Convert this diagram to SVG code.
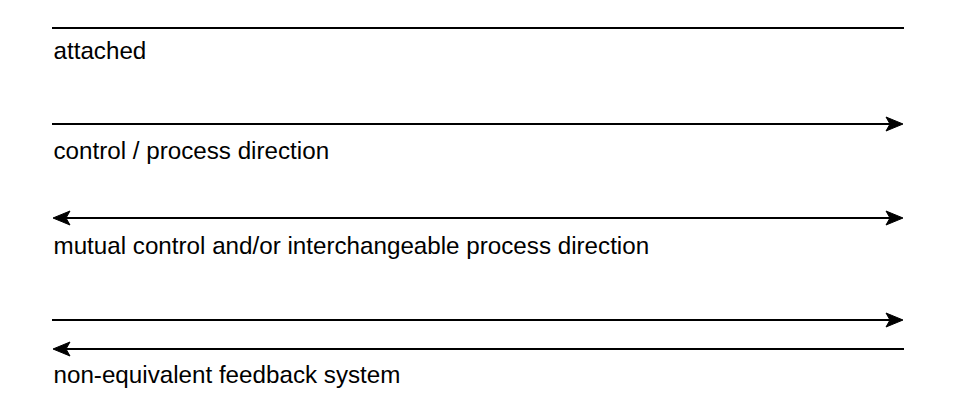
<svg xmlns="http://www.w3.org/2000/svg" width="956" height="416" viewBox="0 0 956 416">
<style>
.ln{stroke:#000;stroke-width:2;fill:none}
.ah{fill:#000;stroke:#000;stroke-width:1}
.lb{font-family:"Liberation Sans",Arial,sans-serif;font-size:24.2px;fill:#000}
</style>
<defs>
<path id="headR" d="M0,0 L-17,-7 L-13,0 L-17,7 Z"/>
</defs>
<rect width="956" height="416" fill="#fff"/>
<g id="connectors">
<line class="ln" x1="52" y1="28" x2="904" y2="28"/>
<line class="ln" x1="52" y1="124" x2="892" y2="124"/>
<use href="#headR" class="ah" transform="translate(903,124)"/>
<line class="ln" x1="64" y1="218" x2="892" y2="218"/>
<use href="#headR" class="ah" transform="translate(903,218)"/>
<use href="#headR" class="ah" transform="translate(53,218) rotate(180)"/>
<line class="ln" x1="52" y1="320" x2="892" y2="320"/>
<use href="#headR" class="ah" transform="translate(903,320)"/>
<line class="ln" x1="64" y1="349" x2="904" y2="349"/>
<use href="#headR" class="ah" transform="translate(53,349) rotate(180)"/>
</g>
<g id="label-attached"><text class="lb" x="53.5" y="58.5">attached</text></g>
<g id="label-control"><text class="lb" x="53.5" y="159">control / process direction</text></g>
<g id="label-mutual"><text class="lb" x="53.5" y="254">mutual control and/or interchangeable process direction</text></g>
<g id="label-feedback"><text class="lb" x="53.5" y="383">non-equivalent feedback system</text></g>
</svg>
